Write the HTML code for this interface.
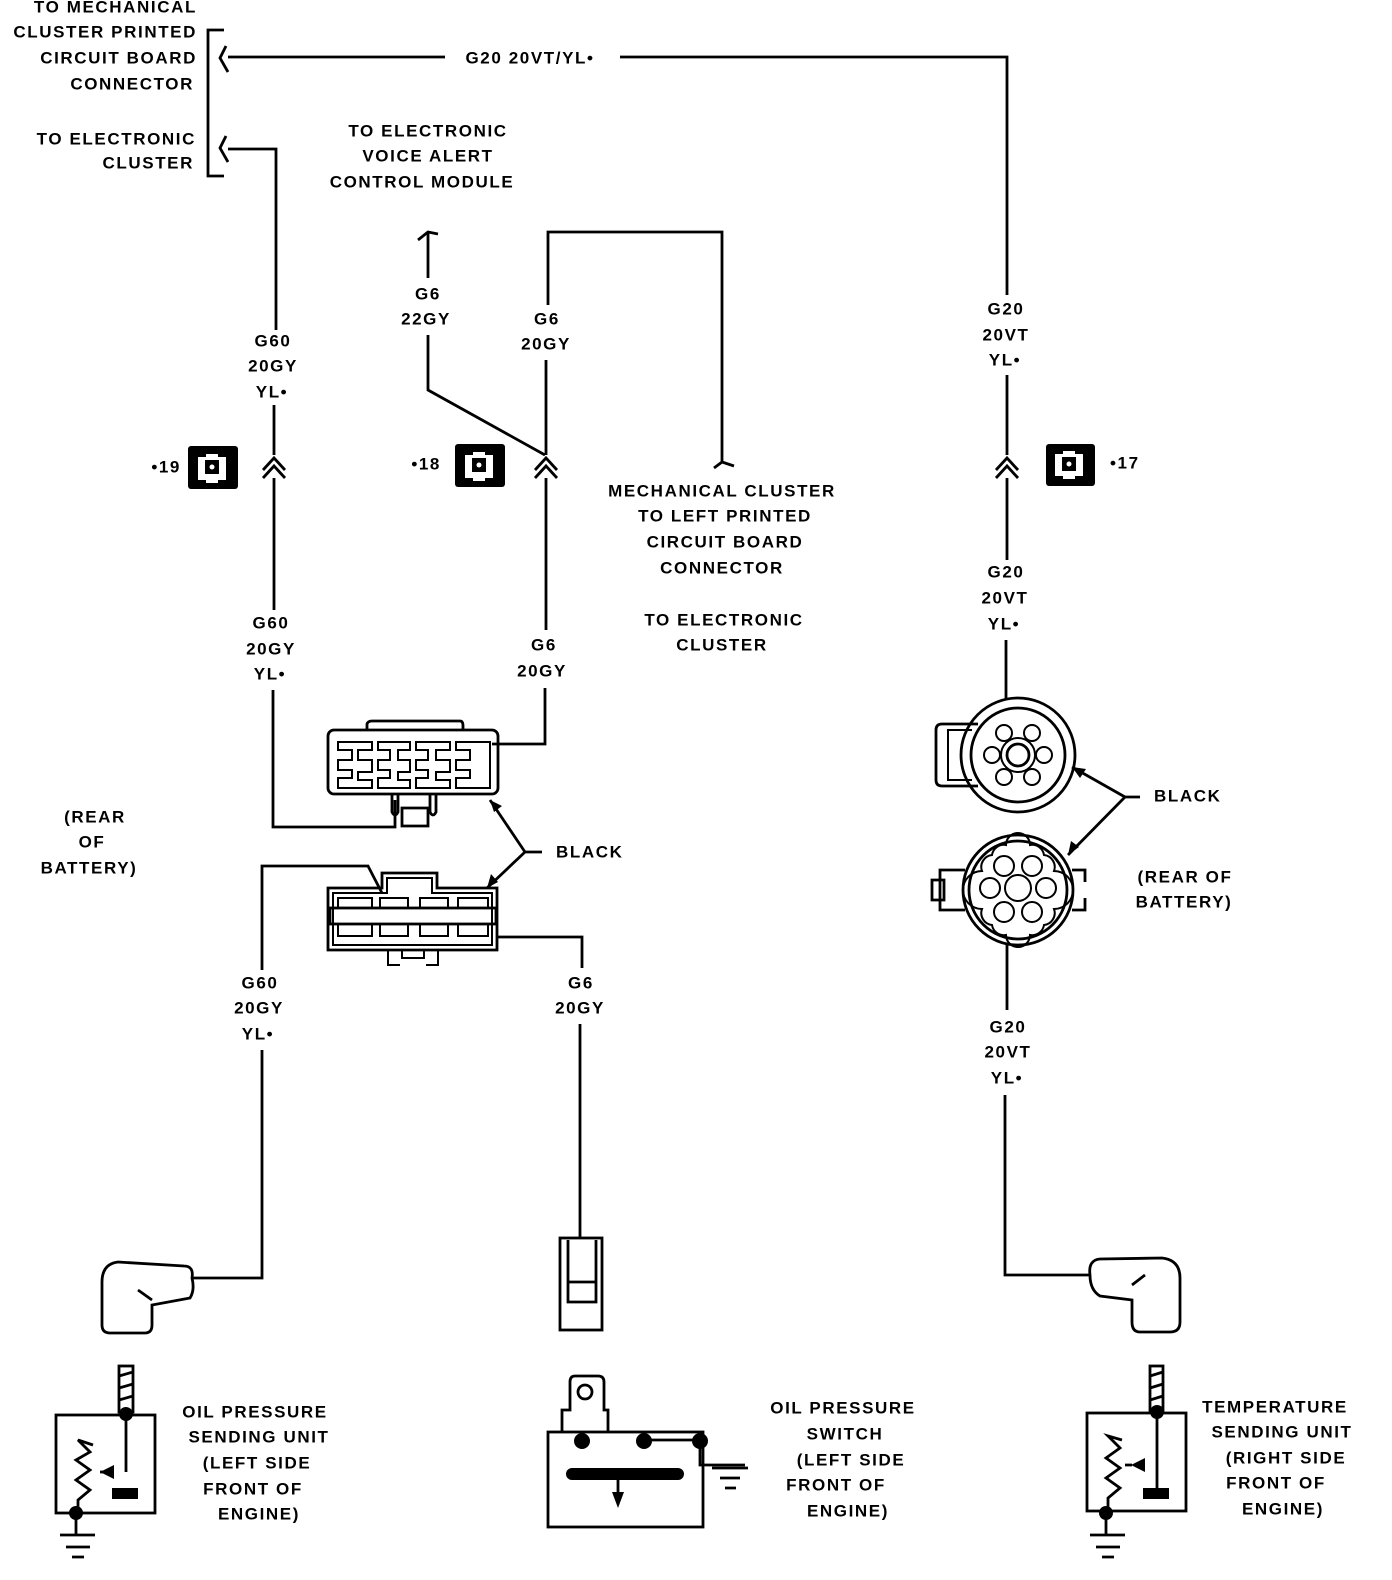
<!DOCTYPE html>
<html><head><meta charset="utf-8"><style>
html,body{margin:0;padding:0;background:#fff;}
svg{display:block}
text{font-family:"Liberation Sans",sans-serif;font-size:17px;font-weight:bold;fill:#000;letter-spacing:1.6px;dominant-baseline:middle}
</style></head><body>
<svg width="1392" height="1580" viewBox="0 0 1392 1580" xmlns="http://www.w3.org/2000/svg">
<g stroke="#000" stroke-width="2.8" fill="none">
<path d="M224 30H208V176H224"/>
<path d="M226 46l-6 12 8 14M226 136l-6 12 8 14"/>
<path d="M228 57H445M620 57H1007V295M1007 375V455M1007 478V560M1006 640V700"/>
<path d="M996 470l11-12 11 12M996 478l11-12 11 12"/>
<path d="M228 149H276V330M274 405V455M274 478V610M273 690V827H395V800"/>
<path d="M263 470l11-12 11 12M263 478l11-12 11 12"/>
<path d="M418 240l10-8 10 2M428 232V278M428 335V390L545 455"/>
<path d="M548 305V232H722V462l-8 6M722 462l12 4"/>
<path d="M546 360V455M546 478V630M545 688V744H492"/>
<path d="M535 470l11-12 11 12M535 478l11-12 11 12"/>
<path d="M367 730V724Q368 721 372 721H460Q463 721 463 726V730"/>
<rect x="328" y="730" width="170" height="64" rx="6"/>
<path d="M338 742H372V750H358V760H372V772H358V780H372V788H338V778H352V770H338V760H352V750H338Z" stroke-width="2"/>
<path d="M378 742H410V750H398V760H410V772H398V780H410V788H378V778H390V770H378V760H390V750H378Z" stroke-width="2"/>
<path d="M416 742H450V750H436V760H450V772H436V780H450V788H416V778H428V770H416V760H428V750H416Z" stroke-width="2"/>
<path d="M456 742H490V788H456V778H470V770H456V760H470V750H456Z" stroke-width="2"/>
<path d="M392 794V812Q395 818 398 812V794M402 808H428V826H402ZM430 794V812Q433 818 436 812V794"/>
<path d="M328 950V888H382V873H437V888H497V950Z"/>
<path d="M333 945V893H387V878H432V893H492V945Z" stroke-width="2"/>
<rect x="330" y="908" width="166" height="16"/>
<path d="M338 908V898H372V908M380 908V898H408V908M420 908V898H448V908M458 908V898H488V908M338 924V936H372V924M380 924V936H408V924M420 924V936H448V924M458 924V936H488V924" stroke-width="2"/>
<path d="M388 950V965H400M426 965H438V950M402 950V958H424V950" stroke-width="2"/>
<path d="M382 893L368 866H262V970M262 1050V1278H192M497 937H582V968M580 1024V1238"/>
<path d="M542 852H525L490 800M525 852L487 888"/>
<circle cx="1018" cy="755" r="57"/><circle cx="1018" cy="755" r="47"/>
<path d="M978 724H942Q936 724 936 730V780Q936 786 942 786H978"/>
<path d="M972 730H948V780H972" stroke-width="2"/>
<circle cx="1018" cy="755" r="11"/><circle cx="1018" cy="755" r="17" stroke-width="2"/>
<circle cx="1004" cy="733" r="8" stroke-width="2"/><circle cx="1032" cy="733" r="8" stroke-width="2"/>
<circle cx="992" cy="755" r="8" stroke-width="2"/><circle cx="1044" cy="755" r="8" stroke-width="2"/>
<circle cx="1004" cy="777" r="8" stroke-width="2"/><circle cx="1032" cy="777" r="8" stroke-width="2"/>
<circle cx="1018" cy="890" r="55"/><circle cx="1018" cy="890" r="49"/>
<path d="M1018 845m-12 0a12 12 0 0 1 24 0a12 12 0 0 1 14 10a12 12 0 0 1 10 16a12 12 0 0 1 0 38a12 12 0 0 1-10 16a12 12 0 0 1-14 10a12 12 0 0 1-24 0a12 12 0 0 1-14-10a12 12 0 0 1-10-16a12 12 0 0 1 0-38a12 12 0 0 1 10-16a12 12 0 0 1 14-10z" stroke-width="2"/>
<circle cx="1018" cy="888" r="13" stroke-width="2"/>
<circle cx="1004" cy="866" r="10" stroke-width="2"/><circle cx="1032" cy="866" r="10" stroke-width="2"/>
<circle cx="990" cy="888" r="10" stroke-width="2"/><circle cx="1046" cy="888" r="10" stroke-width="2"/>
<circle cx="1004" cy="912" r="10" stroke-width="2"/><circle cx="1032" cy="912" r="10" stroke-width="2"/>
<path d="M965 870H940V910H965M932 880V900H944V880Z M1072 870H1085V882M1072 910H1085V898"/>
<path d="M1125 797H1140M1125 797L1072 767M1125 797L1068 855"/>
<path d="M1007 945V1010M1005 1095V1275H1090"/>
<path d="M192 1278Q194 1266 184 1266L118 1262Q102 1264 102 1282V1325Q102 1333 110 1333H145Q152 1333 152 1325V1305L190 1298Q195 1290 192 1278ZM138 1290L152 1300"/>
<rect x="119" y="1366" width="14" height="46"/>
<path d="M119 1376L133 1372M119 1388L133 1384M119 1400L133 1396"/>
<rect x="56" y="1415" width="99" height="98"/>
<path d="M126 1415V1472M93 1445L78 1440 90 1452 76 1460 90 1470 76 1480 90 1490 78 1500V1513M76 1513V1535M60 1535H95M66 1547H90M72 1557H84"/>
<path d="M112 1472H100"/>
<rect x="560" y="1238" width="42" height="92"/>
<path d="M568 1240V1302H596V1240M568 1282H596"/>
<path d="M562 1432V1410H570V1382Q570 1376 575 1376H598Q604 1376 604 1382V1410H608V1432"/>
<circle cx="585" cy="1392" r="7"/>
<rect x="548" y="1432" width="155" height="95"/>
<path d="M582 1432V1440M648 1440H700V1465H745M712 1468H748M720 1478H740M725 1488H736M618 1478V1500"/>
<path d="M1090 1275Q1088 1260 1100 1259L1162 1258Q1180 1260 1180 1278V1322Q1180 1332 1170 1332H1140Q1132 1332 1132 1322V1300L1100 1296Q1090 1290 1090 1275ZM1132 1285L1145 1275"/>
<rect x="1150" y="1366" width="13" height="46"/>
<path d="M1150 1376L1163 1372M1150 1388L1163 1384M1150 1400L1163 1396"/>
<rect x="1087" y="1413" width="99" height="98"/>
<path d="M1157 1413V1488M1125 1465H1132M1122 1440L1108 1436 1120 1448 1106 1458 1120 1468 1106 1478 1120 1488 1108 1498V1511M1106 1511V1535M1090 1535H1125M1096 1547H1120M1102 1557H1114"/>
</g>
<g fill="#000">
<circle cx="126" cy="1414" r="7"/><circle cx="76" cy="1513" r="7"/>
<path d="M100 1472l14-7v14z"/><rect x="112" y="1488" width="26" height="11"/>
<circle cx="582" cy="1441" r="8"/><circle cx="644" cy="1441" r="8"/><circle cx="700" cy="1441" r="8"/>
<rect x="566" y="1468" width="118" height="12" rx="6"/>
<path d="M612 1492h12l-6 16z"/>
<circle cx="1157" cy="1412" r="7"/><circle cx="1106" cy="1513" r="7"/>
<path d="M1131 1465l14-7v14z"/><rect x="1143" y="1488" width="26" height="11"/>
<path d="M490 800l12 6-8 6z M487 888l4-14 7 8z M1072 767l14 2-6 9z M1068 855l3-14 8 6z"/>
<rect x="188" y="446" width="50" height="43" rx="3"/>
<rect x="455" y="444" width="50" height="43" rx="3"/>
<rect x="1046" y="444" width="49" height="42" rx="3"/>
</g>
<g fill="#fff">
<path d="M198 457h8v-3h12v3h8v23h-8v3h-12v-3h-8z"/>
<path d="M465 455h8v-3h12v3h8v23h-8v3h-12v-3h-8z"/>
<path d="M1055 454h8v-3h12v3h8v22h-8v3h-12v-3h-8z"/>
</g>
<g fill="#000"><rect x="205" y="460" width="14" height="14"/><rect x="472" y="458" width="14" height="14"/><rect x="1062" y="457" width="14" height="14"/></g>
<g fill="#fff"><circle cx="212" cy="467" r="2.5"/><circle cx="479" cy="465" r="2.5"/><circle cx="1069" cy="464" r="2.5"/></g>
<g text-anchor="end">
<text x="197" y="8">TO MECHANICAL</text>
<text x="197" y="33">CLUSTER PRINTED</text>
<text x="197" y="59">CIRCUIT BOARD</text>
<text x="194" y="85">CONNECTOR</text>
<text x="196" y="140">TO ELECTRONIC</text>
<text x="194" y="164">CLUSTER</text>
<text x="181" y="468">•19</text>
<text x="441" y="465">•18</text>
</g>
<g text-anchor="middle">
<text x="530" y="59">G20 20VT/YL•</text>
<text x="428" y="132">TO ELECTRONIC</text>
<text x="428" y="157">VOICE ALERT</text>
<text x="422" y="183">CONTROL MODULE</text>
<text x="428" y="295">G6</text><text x="426" y="320">22GY</text>
<text x="547" y="320">G6</text><text x="546" y="345">20GY</text>
<text x="273" y="342">G60</text><text x="273" y="367">20GY</text><text x="272" y="393">YL•</text>
<text x="271" y="624">G60</text><text x="271" y="650">20GY</text><text x="270" y="675">YL•</text>
<text x="544" y="646">G6</text><text x="542" y="672">20GY</text>
<text x="722" y="492">MECHANICAL CLUSTER</text>
<text x="725" y="517">TO LEFT PRINTED</text>
<text x="725" y="543">CIRCUIT BOARD</text>
<text x="722" y="569">CONNECTOR</text>
<text x="724" y="621">TO ELECTRONIC</text>
<text x="722" y="646">CLUSTER</text>
<text x="1006" y="310">G20</text><text x="1006" y="336">20VT</text><text x="1005" y="361">YL•</text>
<text x="1006" y="573">G20</text><text x="1005" y="599">20VT</text><text x="1004" y="625">YL•</text>
<text x="1008" y="1028">G20</text><text x="1008" y="1053">20VT</text><text x="1007" y="1079">YL•</text>
<text x="95" y="818">(REAR</text><text x="92" y="843">OF</text><text x="89" y="869">BATTERY)</text>
<text x="260" y="984">G60</text><text x="259" y="1009">20GY</text><text x="258" y="1035">YL•</text>
<text x="581" y="984">G6</text><text x="580" y="1009">20GY</text>
<text x="1185" y="878">(REAR OF</text><text x="1184" y="903">BATTERY)</text>
<text x="255" y="1413">OIL PRESSURE</text>
<text x="259" y="1438">SENDING UNIT</text>
<text x="257" y="1464">(LEFT SIDE</text>
<text x="253" y="1490">FRONT OF</text>
<text x="259" y="1515">ENGINE)</text>
<text x="843" y="1409">OIL PRESSURE</text>
<text x="845" y="1435">SWITCH</text>
<text x="851" y="1461">(LEFT SIDE</text>
<text x="836" y="1486">FRONT OF</text>
<text x="848" y="1512">ENGINE)</text>
<text x="1275" y="1408">TEMPERATURE</text>
<text x="1282" y="1433">SENDING UNIT</text>
<text x="1286" y="1459">(RIGHT SIDE</text>
<text x="1276" y="1484">FRONT OF</text>
<text x="1283" y="1510">ENGINE)</text>
</g>
<text x="556" y="853">BLACK</text>
<text x="1154" y="797">BLACK</text>
<text x="1110" y="464">•17</text>
</svg>
</body></html>
